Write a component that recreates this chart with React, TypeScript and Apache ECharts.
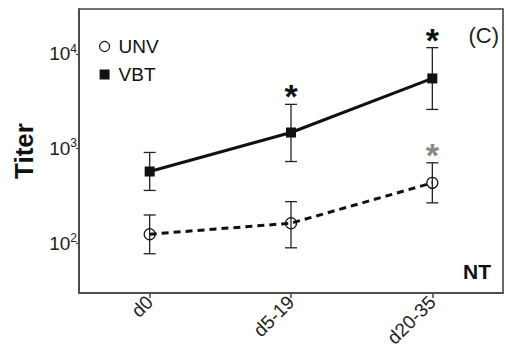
import React, { useEffect, useRef } from "react";
import * as echarts from "echarts";

const categories = ["d0", "d5-19", "d20-35"];
const unvMean = [124, 162, 433];
const unvLow = [77, 89, 266];
const unvHigh = [198, 274, 706];
const unvSig = [false, false, true];
const vbtMean = [571, 1476, 5510];
const vbtLow = [360, 728, 2590];
const vbtHigh = [908, 2930, 11660];
const vbtSig = [false, true, true];
const yTicks = [100, 1000, 10000];

const FONT = "Liberation Sans";

function errorSeries(name: string, low: number[], high: number[], sig: boolean[], starColor: string) {
  return {
    type: "custom",
    name: name + "-err",
    z: 1,
    data: categories.map((_, i) => [i, low[i], high[i], sig[i] ? 1 : 0]),
    renderItem: (params: any, api: any) => {
      const i = api.value(0);
      const lo = api.coord([i, api.value(1)]);
      const hi = api.coord([i, api.value(2)]);
      const cap = 6;
      const st = { stroke: "#222", lineWidth: 1.3 };
      const children: any[] = [
        { type: "line", shape: { x1: lo[0], y1: lo[1], x2: hi[0], y2: hi[1] }, style: st },
        { type: "line", shape: { x1: lo[0] - cap, y1: lo[1], x2: lo[0] + cap, y2: lo[1] }, style: st },
        { type: "line", shape: { x1: hi[0] - cap, y1: hi[1], x2: hi[0] + cap, y2: hi[1] }, style: st },
      ];
      if (api.value(3) === 1) {
        children.push({
          type: "text",
          x: hi[0],
          y: hi[1] - 8,
          style: {
            text: "*",
            fill: starColor,
            fontSize: 34,
            fontWeight: "bold",
            fontFamily: FONT,
            align: "center",
            verticalAlign: "middle",
          },
        });
      }
      return { type: "group", children };
    },
  };
}

export default function App() {
  const ref = useRef<HTMLDivElement>(null);
  useEffect(() => {
    if (!ref.current) return;
    const chart = echarts.init(ref.current, null, { renderer: "svg" });
    chart.setOption({
      animation: false,
      textStyle: { fontFamily: FONT },
      grid: { left: 79, top: 9, right: 3, bottom: 62, show: true, borderColor: "#444", borderWidth: 1.6 },
      legend: {
        orient: "vertical",
        left: 94,
        top: 32,
        itemWidth: 10,
        itemHeight: 10,
        itemGap: 9,
        textStyle: { fontSize: 19, color: "#111", fontFamily: FONT, padding: [0, 0, 0, 4] },
        data: [
          { name: "UNV", icon: "circle", itemStyle: { color: "#fff", borderColor: "#111", borderWidth: 1.2 } },
          { name: "VBT", icon: "rect", itemStyle: { color: "#111" } },
        ],
      },
      xAxis: {
        type: "category",
        data: categories,
        boundaryGap: true,
        axisLine: { show: true, lineStyle: { color: "#444", width: 1.6 } },
        axisTick: { show: true, alignWithLabel: true, length: 5, lineStyle: { color: "#444", width: 1.5 } },
        axisLabel: { rotate: 45, fontSize: 19, color: "#222", margin: 6, fontFamily: FONT },
      },
      yAxis: {
        type: "log",
        logBase: 10,
        min: 29.6,
        max: 29900,
        name: "Titer",
        nameLocation: "middle",
        nameGap: 42,
        nameTextStyle: { fontSize: 26, fontWeight: "bold", color: "#111", fontFamily: FONT },
        splitLine: { show: false },
        axisLine: { show: true, lineStyle: { color: "#444", width: 1.6 } },
        axisTick: { show: true, length: 3, customValues: yTicks, lineStyle: { color: "#444", width: 1.2 } },
        axisLabel: {
          customValues: yTicks,
          margin: 2,
          color: "#222",
          fontSize: 18,
          fontFamily: FONT,
          formatter: (v: number) => `{b|10}{s|${Math.round(Math.log10(v))}}`,
          rich: {
            b: { fontSize: 19, color: "#222", fontFamily: FONT, lineHeight: 22 },
            s: { fontSize: 12, color: "#222", fontFamily: FONT, verticalAlign: "top", lineHeight: 22, padding: [0, 0, 10, 0] },
          },
        },
      },
      graphic: [
        { type: "text", right: 7, top: 24, style: { text: "(C)", fontSize: 22, fontFamily: FONT, fill: "#222" } },
        { type: "text", right: 15, top: 261, style: { text: "NT", fontSize: 21, fontWeight: "bold", fontFamily: FONT, fill: "#111" } },
      ],
      series: [
        errorSeries("UNV", unvLow, unvHigh, unvSig, "#8a8a8a"),
        errorSeries("VBT", vbtLow, vbtHigh, vbtSig, "#111"),
        {
          type: "line",
          name: "UNV",
          data: unvMean,
          z: 3,
          symbol: "circle",
          symbolSize: 11,
          itemStyle: { color: "rgba(0,0,0,0)", borderColor: "#111", borderWidth: 1.2 },
          lineStyle: { color: "#111", width: 3, type: [7, 5] },
        },
        {
          type: "line",
          name: "VBT",
          data: vbtMean,
          z: 3,
          symbol: "rect",
          symbolSize: 10,
          itemStyle: { color: "#111" },
          lineStyle: { color: "#111", width: 3 },
        },
      ],
    });
    return () => chart.dispose();
  }, []);
  return <div ref={ref} style={{ width: 506, height: 355, position: "absolute", left: 0, top: 0 }} />;
}
